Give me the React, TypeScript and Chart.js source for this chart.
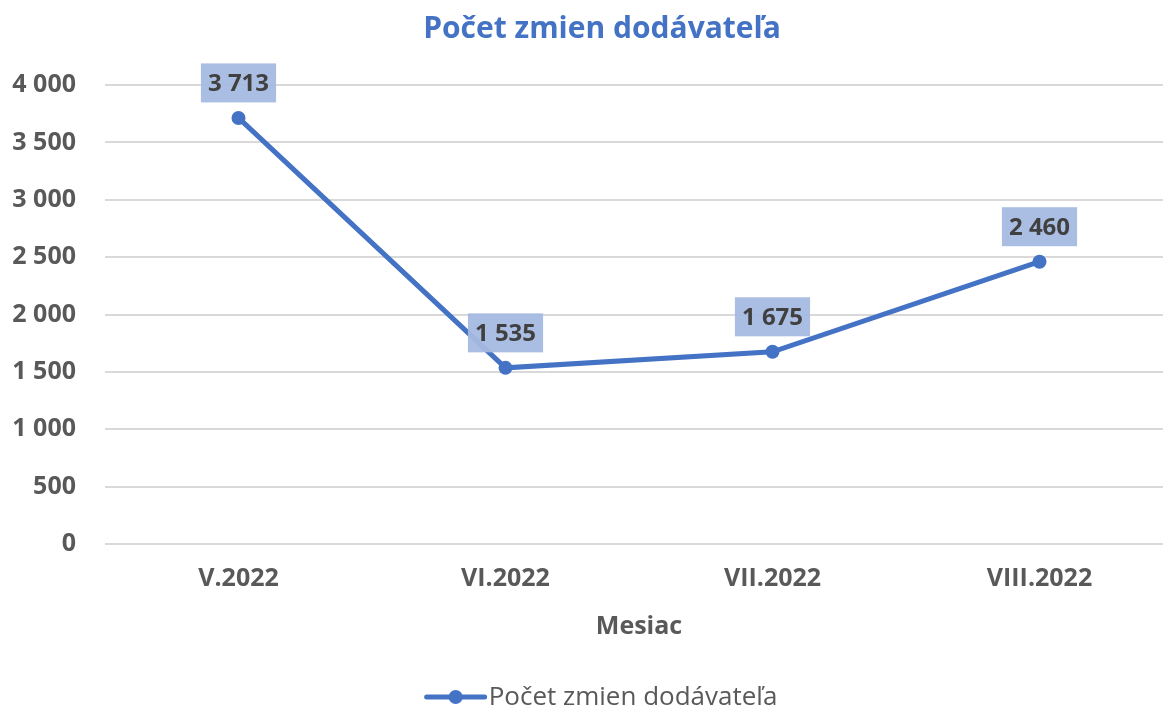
import React, { useEffect, useRef } from "react";
import { Chart, registerables } from "chart.js";

Chart.register(...registerables);

const chartTitle = "Počet zmien dodávateľa";
const xAxisTitle = "Mesiac";
const seriesName = "Počet zmien dodávateľa";
const categories = ["V.2022", "VI.2022", "VII.2022", "VIII.2022"];
const values = [3713, 1535, 1675, 2460];
const yMin = 0;
const yMax = 4000;
const yStep = 500;

const BLUE = "#4472C4";
const GREY = "#595959";
const FONT = "'Open Sans', 'Noto Sans', sans-serif";

const fmt = (v: number) => String(v).replace(/\B(?=(\d{3})+(?!\d))/g, " ");

const decorPlugin = {
  id: "decor",
  afterDatasetsDraw(chart: any) {
    const ctx = chart.ctx;
    const area = chart.chartArea;
    const meta = chart.getDatasetMeta(0);
    ctx.save();
    // data labels
    ctx.font = `bold 24px ${FONT}`;
    ctx.textAlign = "center";
    ctx.textBaseline = "middle";
    meta.data.forEach((pt: any, i: number) => {
      const text = fmt(values[i]);
      const w = ctx.measureText(text).width + 14;
      const h = 39;
      const cx = pt.x;
      const cy = pt.y - 35;
      ctx.fillStyle = "rgba(165,185,224,0.95)";
      ctx.fillRect(cx - w / 2, cy - h / 2, w, h);
      ctx.fillStyle = "#404040";
      ctx.fillText(text, cx, cy + 1);
    });
    // title
    ctx.font = `bold 30px ${FONT}`;
    ctx.fillStyle = BLUE;
    ctx.fillText(chartTitle, 602, 29);
    // x axis title
    ctx.font = `bold 25px ${FONT}`;
    ctx.fillStyle = GREY;
    ctx.fillText(xAxisTitle, (area.left + area.right) / 2, 627);
    // legend
    ctx.font = `26px ${FONT}`;
    const tw = ctx.measureText(seriesName).width;
    const lineW = 58;
    const total = lineW + 4 + tw;
    const lx = 602 - total / 2;
    const ly = 697;
    ctx.strokeStyle = BLUE;
    ctx.lineWidth = 5;
    ctx.lineCap = "round";
    ctx.beginPath();
    ctx.moveTo(lx, ly);
    ctx.lineTo(lx + lineW, ly);
    ctx.stroke();
    ctx.fillStyle = BLUE;
    ctx.beginPath();
    ctx.arc(lx + lineW / 2, ly, 7, 0, Math.PI * 2);
    ctx.fill();
    ctx.fillStyle = GREY;
    ctx.textAlign = "left";
    ctx.fillText(seriesName, lx + lineW + 4, ly + 1);
    ctx.restore();
  },
};

export default function App() {
  const ref = useRef<HTMLCanvasElement | null>(null);
  useEffect(() => {
    document.body.style.margin = "0";
    document.body.style.overflow = "hidden";
    const chart = new Chart(ref.current as HTMLCanvasElement, {
      type: "line",
      data: {
        labels: categories,
        datasets: [
          {
            label: seriesName,
            data: values,
            borderColor: BLUE,
            backgroundColor: BLUE,
            borderWidth: 5,
            pointRadius: 7,
            pointHoverRadius: 7,
            pointBackgroundColor: BLUE,
            pointBorderColor: BLUE,
            pointBorderWidth: 0,
            tension: 0,
          },
        ],
      },
      options: {
        animation: false,
        responsive: false,
        maintainAspectRatio: false,
        layout: { padding: { top: 85, right: 27, left: 0, bottom: 0 } },
        plugins: {
          legend: { display: false },
          title: { display: false },
          tooltip: { enabled: false },
        },
        scales: {
          x: {
            offset: true,
            grid: { display: false, drawTicks: false },
            border: { display: false },
            ticks: {
              color: GREY,
              font: { family: FONT, size: 25, weight: "bold" },
              padding: 20,
            },
            afterFit: (s: any) => {
              s.height = 713 - 544;
            },
          },
          y: {
            min: yMin,
            max: yMax,
            grid: { color: "#d9d9d9", lineWidth: 2, drawTicks: false },
            border: { display: false },
            ticks: {
              stepSize: yStep,
              color: GREY,
              font: { family: FONT, size: 25, weight: "bold" },
              padding: 29,
              callback: (v: any) => fmt(Number(v)),
            },
            afterFit: (s: any) => {
              s.width = 105;
            },
          },
        },
      },
      plugins: [decorPlugin],
    });
    return () => chart.destroy();
  }, []);
  return (
    <div style={{ position: "absolute", left: 0, top: 0, width: 1163, height: 713, overflow: "hidden", background: "#fff" }}>
      <canvas ref={ref} width={1200} height={713} style={{ width: 1200, height: 713, display: "block" }} />
    </div>
  );
}
